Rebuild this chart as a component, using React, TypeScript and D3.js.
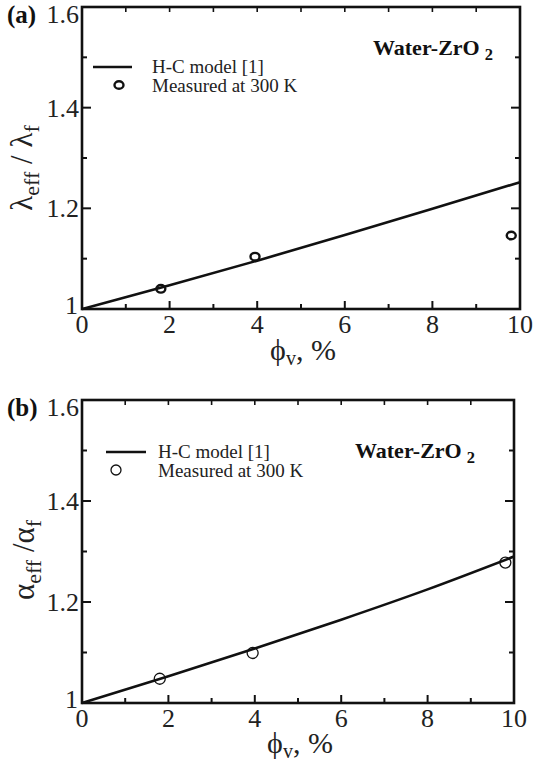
import React from "react";
import * as d3 from "d3";

const modelPhi = [0, 2, 4, 6, 8, 10];
const modelLambda = [1.0, 1.047, 1.096, 1.147, 1.199, 1.252];
const modelAlpha = [1.0, 1.053, 1.108, 1.165, 1.225, 1.29];
const measPhi = [1.8, 3.95, 9.8];
const measLambda = [1.04, 1.104, 1.146];
const measAlpha = [1.048, 1.099, 1.278];
const xTicks = [0, 2, 4, 6, 8, 10];
const yTickLabels = ["1.2", "1.4", "1.6"];

const FONT = "'Liberation Serif', 'Times New Roman', serif";

type PanelProps = {
  left: number; right: number; top: number; bottom: number;
  tag: string; ySym: string; ySep: string; yData: number[]; mData: number[];
  thickMarker: boolean; legend: { lx1: number; lx2: number; ly: number; tx: number; ty1: number; ty2: number; mx: number; my: number };
  water: { x: number; y: number; size: number };
  yTitle: { x: number; y: number };
  xTitleY: number;
};

function Panel(p: PanelProps) {
  const x = d3.scaleLinear().domain([0, 10]).range([p.left, p.right]);
  const y = d3.scaleLinear().domain([1, 1.6]).range([p.bottom, p.top]);
  const pts: [number, number][] = modelPhi.map((v, i) => [v, p.yData[i]]);
  const line = d3.line<[number, number]>().x(d => x(d[0])).y(d => y(d[1])).curve(d3.curveMonotoneX);
  const minorX = d3.range(0, 11, 1);
  const yAll = d3.range(0, 7).map(i => 1 + i * 0.1);
  return (
    <g>
      <rect x={p.left} y={p.top} width={p.right - p.left} height={p.bottom - p.top} fill="none" stroke="#111" strokeWidth={2.6} />
      {minorX.map(v => (
        <line key={"b" + v} x1={x(v)} x2={x(v)} y1={p.bottom} y2={p.bottom - (v % 2 === 0 ? 8 : 5)} stroke="#111" strokeWidth={2} />
      ))}
      {minorX.map(v => (
        <line key={"t" + v} x1={x(v)} x2={x(v)} y1={p.top} y2={p.top + 5} stroke="#111" strokeWidth={1.6} />
      ))}
      {yAll.map((v, i) => (
        <line key={"l" + i} x1={p.left} x2={p.left + (i % 2 === 0 ? 9 : 5)} y1={y(v)} y2={y(v)} stroke="#111" strokeWidth={2} />
      ))}
      {yAll.map((v, i) => (
        <line key={"r" + i} x1={p.right} x2={p.right - (i % 2 === 0 ? 9 : 5)} y1={y(v)} y2={y(v)} stroke="#111" strokeWidth={2} />
      ))}
      {xTicks.map(v => (
        <text key={"xl" + v} x={x(v)} y={p.bottom + 24} textAnchor="middle" fontFamily={FONT} fontSize={26} fill="#222">{v}</text>
      ))}
      {yTickLabels.map(s => (
        <text key={"yl" + s} x={p.left - 3} y={Math.max(y(+s) + 9, p.top + 16)} textAnchor="end" fontFamily={FONT} fontSize={26} fill="#222">{s}</text>
      ))}
      <text x={p.left - 4} y={p.bottom + 5} textAnchor="end" fontFamily={FONT} fontSize={26} fill="#222">1</text>
      <text x={7} y={p.top + 16} fontFamily={FONT} fontSize={25} fontWeight="bold" fill="#111">{p.tag}</text>
      <path d={line(pts) || ""} fill="none" stroke="#111" strokeWidth={2.6} />
      {measPhi.map((v, i) => (
        p.thickMarker ? (
          <ellipse key={"m" + i} cx={x(v)} cy={y(p.mData[i])} rx={4.5} ry={3.8} fill="none" stroke="#111" strokeWidth={2.4} />
        ) : (
          <circle key={"m" + i} cx={x(v)} cy={y(p.mData[i])} r={5.5} fill="none" stroke="#111" strokeWidth={1.3} />
        )
      ))}
      <line x1={p.legend.lx1} x2={p.legend.lx2} y1={p.legend.ly} y2={p.legend.ly} stroke="#111" strokeWidth={2.6} />
      <text x={p.legend.tx} y={p.legend.ty1} fontFamily={FONT} fontSize={19} fill="#222">H-C model [1]</text>
      {p.thickMarker ? (
        <ellipse cx={p.legend.mx} cy={p.legend.my} rx={4.5} ry={3.8} fill="none" stroke="#111" strokeWidth={2.4} />
      ) : (
        <circle cx={p.legend.mx} cy={p.legend.my} r={5} fill="none" stroke="#111" strokeWidth={1.3} />
      )}
      <text x={p.legend.tx} y={p.legend.ty2} fontFamily={FONT} fontSize={19} fill="#222">Measured at 300 K</text>
      <text x={p.water.x} y={p.water.y} fontFamily={FONT} fontSize={p.water.size} fontWeight="bold" fill="#111">
        Water-ZrO<tspan dx={5} dy={5} fontSize={p.water.size * 0.75}>2</tspan>
      </text>
      <text transform={`translate(${p.yTitle.x},${p.yTitle.y}) rotate(-90)`} textAnchor="middle" fontFamily={FONT} fontSize={31} fill="#222">
        {p.ySym}<tspan dy={7} fontSize={22}>eff</tspan><tspan dy={-7}>{p.ySep}{p.ySym}</tspan><tspan dy={7} fontSize={22}>f</tspan>
      </text>
      <text x={(p.left + p.right) / 2 + 2} y={p.xTitleY} textAnchor="middle" fontFamily={FONT} fontSize={30} fill="#222">
        ϕ<tspan dy={5} fontSize={20}>v</tspan><tspan dy={-5}>, %</tspan>
      </text>
    </g>
  );
}

export default function App() {
  return (
    <svg width={535} height={770} style={{ position: "absolute", left: 0, top: 0, background: "#fff" }}>
      <rect width={535} height={770} fill="#fff" />
      <Panel left={82} right={520} top={7} bottom={309} tag="(a)" ySym="λ" ySep=" / " yData={modelLambda} mData={measLambda}
        thickMarker={true}
        legend={{ lx1: 93, lx2: 132, ly: 67, tx: 152, ty1: 73, ty2: 92, mx: 119, my: 85 }}
        water={{ x: 373, y: 55, size: 22 }}
        yTitle={{ x: 32, y: 168 }} xTitleY={360} />
      <Panel left={82} right={514} top={400} bottom={703} tag="(b)" ySym="α" ySep=" /" yData={modelAlpha} mData={measAlpha}
        thickMarker={false}
        legend={{ lx1: 106, lx2: 146, ly: 452, tx: 158, ty1: 458, ty2: 477, mx: 116, my: 470 }}
        water={{ x: 355, y: 458, size: 22 }}
        yTitle={{ x: 34, y: 560 }} xTitleY={753} />
    </svg>
  );
}
